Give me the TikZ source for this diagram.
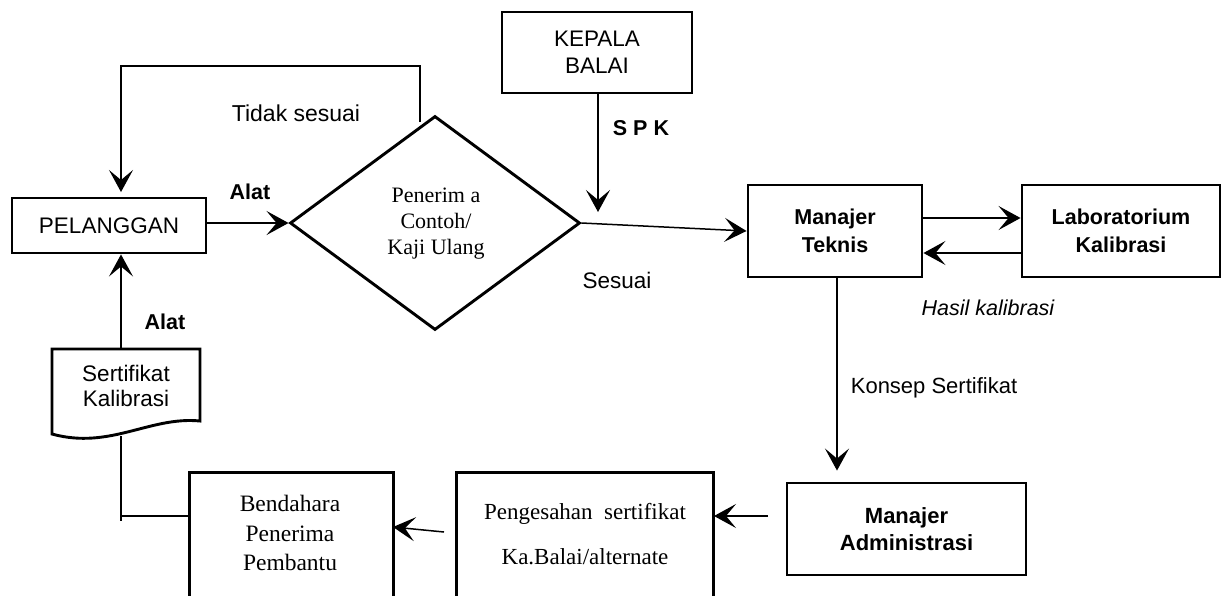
\documentclass[tikz,border=0pt]{standalone}
\usepackage{fontspec}
\setmainfont{Liberation Serif}
\setsansfont{Liberation Sans}
\usetikzlibrary{arrows.meta,shapes.geometric}
\begin{document}
\begin{tikzpicture}[x=1pt,y=-1pt,
  box/.style={draw,line width=2.9pt,inner sep=0pt,align=center},
  conn/.style={line width=1.5pt},
  arr/.style={conn,-{Stealth[length=22pt,width=24pt,inset=10pt]}},
  sf/.style={font=\sffamily\fontsize{22.5}{27}\selectfont,inner sep=0pt,align=center},
  sfb/.style={font=\sffamily\bfseries\fontsize{21.5}{28}\selectfont,inner sep=0pt,align=center},
  rm/.style={font=\rmfamily\fontsize{22}{26}\selectfont,inner sep=0pt,align=center}]
\useasboundingbox (0,0) rectangle (1223,595);
\clip (0,0) rectangle (1223,595);

% nodes
\node[box,sf,minimum width=194pt,minimum height=55pt] (P) at (109,225.5) {PELANGGAN};
\node[box,sf,minimum width=190pt,minimum height=81pt] (K) at (597,52.5) {KEPALA\\BALAI};
\node[draw,diamond,line width=2.9pt,minimum width=290pt,minimum height=214pt,inner sep=0pt] (D) at (435,223) {};
\node[rm] (Dt) at (436,224) {Penerim a\\Contoh/\\Kaji Ulang};
\node[box,sfb,minimum width=174pt,minimum height=92pt] (MT) at (835,231) {Manajer\\Teknis};
\node[box,sfb,minimum width=198pt,minimum height=92pt] (L) at (1121,231) {Laboratorium\\Kalibrasi};
\node[box,font=\sffamily\bfseries\fontsize{22}{27}\selectfont,minimum width=239pt,minimum height=92pt] (MA) at (906.5,529) {Manajer\\Administrasi};
\node[box,minimum width=257pt,minimum height=160pt,anchor=north west] (PS) at (455,471) {};
\node[rm,font=\rmfamily\fontsize{23}{45}\selectfont] (PSt) at (585,534.5) {Pengesahan\ \ sertifikat\\Ka.Balai/alternate};
\node[box,minimum width=204pt,minimum height=160pt,anchor=north west] (B) at (188,471) {};
\node[rm,font=\rmfamily\fontsize{23.5}{29.5}\selectfont] (Bt) at (290,533) {Bendahara\\Penerima\\Pembantu};

% document shape
\draw[line width=2.9pt,line join=miter] (52,434) -- (52,349) -- (200,349) -- (200,421)
   .. controls (150,416) and (110,450) .. (52,434) -- cycle;
\node[sf,font=\sffamily\fontsize{22.5}{25}\selectfont] (S) at (126,385.5) {Sertifikat\\Kalibrasi};

% labels
\node[sf,font=\sffamily\fontsize{23}{27}\selectfont] (l1) at (296,113) {Tidak sesuai};
\node[sfb] (l2) at (250,192) {Alat};
\node[sfb] (l3) at (641,128) {S\ P\ K};
\node[sf] (l4) at (617,280) {Sesuai};
\node[sf,font=\sffamily\itshape\fontsize{21.5}{26}\selectfont] (l5) at (988,308) {Hasil kalibrasi};
\node[sf,font=\sffamily\fontsize{22}{26}\selectfont] (l6) at (934,388) {Konsep Sertifikat};
\node[sfb] (l7) at (165,322) {Alat};

% coordinates
\coordinate (fb) at (420,122);
\coordinate (ptop) at (121,192);
\coordinate (spk) at (598,212);
\coordinate (Stop) at (121,349);
\coordinate (Sbot) at (121,436);
\coordinate (maL) at (768,516);
\coordinate (psR) at (714,516);
\coordinate (psL) at (444,532);
\coordinate (bR) at (393,527);

% connectors
\draw[arr] (fb) |- (121,66) -- (ptop);
\draw[arr] (P.east |- D.west) -- (D.west);
\draw[arr] (K.south -| spk) -- (spk);
\draw[arr] (D.east) -- (MT.west);
\draw[arr] ([yshift=13pt]MT.east) -- ([yshift=13pt]L.west);
\draw[arr] ([yshift=-22pt]L.west) -- ([yshift=-22pt]MT.east);
\draw[arr] (MT.south -| 837,0) -- ([yshift=11pt]MA.north -| 837,0);
\draw[arr] (maL) -- (psR);
\draw[arr] (psL) -- (bR);
\draw[arr] (Stop) -- (Stop |- P.south);
\draw[conn] (Sbot) -- (121,521);
\draw[conn] (121,516) -- (121,516 -| B.west);
\end{tikzpicture}
\end{document}
